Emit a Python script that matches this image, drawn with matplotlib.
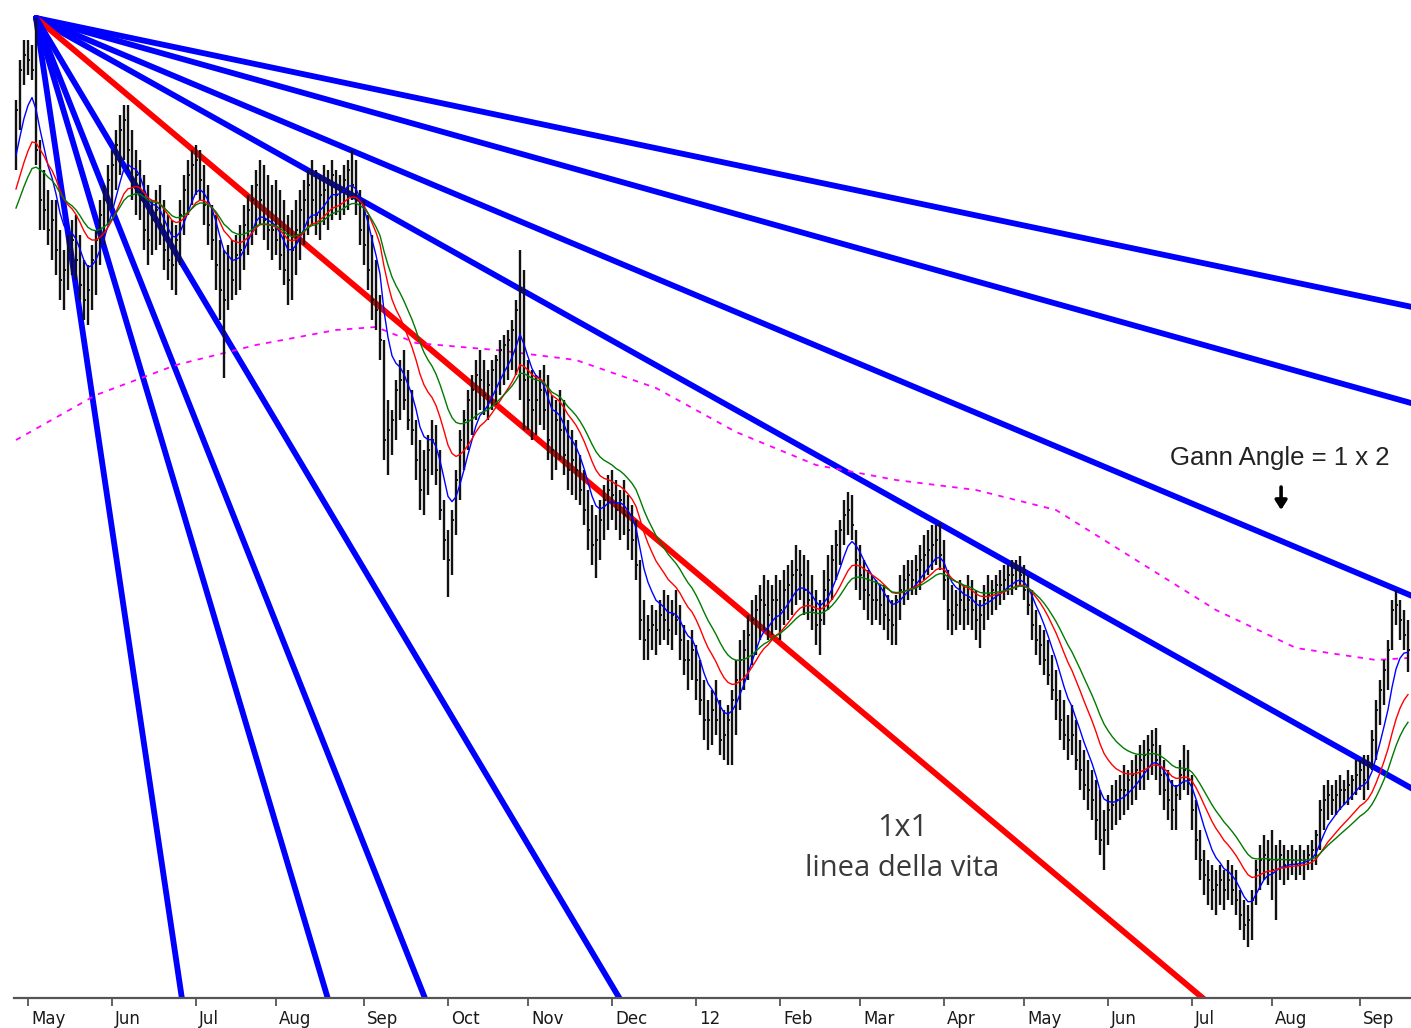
import matplotlib
matplotlib.use("Agg")
import matplotlib.pyplot as plt
import numpy as np
import pandas as pd
from matplotlib.transforms import blended_transform_factory, ScaledTranslation

# ---------------- data (price units, one entry per daily bar) ----------------
highs = [
    900, 940, 960, 960, 955, 982, 860, 830, 810, 800,
    800, 770, 750, 765, 780, 785, 765, 740, 735, 755,
    770, 800, 815, 835, 850, 870, 885, 895, 895, 870,
    850, 840, 825, 815, 800, 810, 815, 800, 785, 780,
    775, 800, 825, 840, 850, 855, 850, 835, 815, 795,
    785, 760, 750, 755, 760, 765, 775, 795, 805, 815,
    830, 840, 835, 825, 815, 820, 810, 800, 785, 790,
    800, 810, 820, 830, 840, 830, 825, 835, 830, 840,
    830, 825, 835, 840, 850, 840, 810, 800, 785, 765,
    740, 705, 660, 600, 590, 620, 640, 650, 630, 610,
    580, 560, 550, 565, 580, 575, 550, 500, 470, 490,
    530, 570, 590, 610, 625, 640, 650, 640, 630, 640,
    645, 660, 665, 670, 680, 700, 750, 730, 640, 630,
    625, 630, 635, 625, 605, 600, 610, 600, 580, 570,
    560, 545, 530, 510, 495, 485, 500, 515, 525, 530,
    520, 510, 520, 505, 495, 480, 440, 400, 385, 395,
    390, 400, 410, 405, 400, 410, 395, 375, 360, 370,
    355, 340, 320, 300, 310, 320, 300, 290, 295, 310,
    340, 360, 370, 385, 400, 405, 415, 425, 420, 415,
    425, 420, 430, 435, 440, 455, 450, 445, 440, 425,
    410, 400, 430, 445, 455, 470, 480, 500, 508, 505,
    470, 455, 440, 430, 425, 420, 415, 415, 405, 400,
    405, 425, 435, 440, 440, 445, 455, 465, 470, 475,
    475, 477, 460, 430, 415, 410, 420, 415, 425, 420,
    410, 400, 415, 425, 420, 425, 430, 435, 435, 440,
    440, 444, 435, 425, 410, 390, 375, 370, 360, 345,
    330, 310, 300, 285, 295, 280, 260, 250, 240, 230,
    220, 210, 190, 205, 215, 220, 225, 235, 230, 240,
    245, 255, 260, 265, 270, 272, 255, 240, 230, 220,
    215, 240, 255, 250, 225, 200, 170, 150, 140, 135,
    130, 135, 130, 140, 135, 130, 110, 100, 95, 110,
    140, 155, 165, 160, 170, 155, 160, 155, 150, 155,
    150, 155, 150, 155, 160, 170, 200, 215, 220, 215,
    220, 225, 220, 230, 225, 240, 240, 245, 245, 270,
    300, 320, 340, 360, 400, 410, 400, 390, 380,
]
lows = [
    830, 870, 915, 925, 920, 835, 770, 770, 755, 740,
    725, 700, 690, 710, 725, 720, 700, 680, 675, 690,
    705, 735, 755, 775, 790, 810, 825, 840, 830, 800,
    785, 780, 750, 735, 745, 750, 755, 730, 720, 710,
    705, 735, 765, 785, 795, 805, 800, 775, 755, 740,
    710, 680, 622, 690, 700, 705, 710, 730, 745, 755,
    765, 775, 760, 750, 740, 745, 730, 715, 695, 700,
    725, 740, 755, 765, 775, 765, 760, 775, 770, 780,
    785, 780, 785, 790, 800, 785, 755, 735, 710, 680,
    670, 640, 540, 525, 545, 560, 580, 590, 570, 555,
    520, 490, 485, 505, 525, 515, 480, 440, 403, 425,
    465, 500, 530, 550, 565, 580, 590, 585, 580, 590,
    595, 605, 615, 620, 630, 625, 600, 570, 570, 560,
    565, 575, 570, 540, 520, 530, 540, 525, 510, 505,
    500, 495, 475, 450, 435, 422, 440, 460, 470, 480,
    470, 460, 465, 450, 440, 420, 360, 340, 340, 350,
    345, 355, 360, 355, 350, 365, 340, 325, 310, 320,
    300, 285, 260, 250, 255, 265, 245, 240, 235, 235,
    265, 290, 310, 320, 335, 345, 360, 370, 360, 365,
    370, 360, 375, 380, 385, 395, 400, 385, 380, 370,
    355, 345, 375, 390, 400, 420, 435, 455, 465, 460,
    410, 400, 390, 380, 375, 380, 375, 370, 360, 355,
    355, 380, 395, 400, 405, 405, 410, 420, 425, 430,
    435, 430, 400, 370, 365, 370, 375, 370, 375, 370,
    360, 352, 370, 380, 385, 390, 395, 400, 405, 405,
    410, 415, 400, 385, 360, 345, 335, 325, 315, 300,
    280, 260, 250, 240, 245, 230, 210, 200, 190, 180,
    160, 145, 130, 155, 170, 175, 180, 185, 190, 195,
    200, 210, 210, 220, 225, 220, 205, 190, 180, 170,
    170, 200, 210, 205, 170, 140, 120, 105, 95, 90,
    85, 95, 90, 100, 95, 85, 70, 60, 53, 60,
    95, 110, 120, 115, 100, 80, 120, 115, 120, 125,
    120, 125, 120, 130, 130, 135, 150, 170, 180, 185,
    185, 190, 195, 195, 200, 205, 210, 200, 210, 230,
    240, 275, 295, 310, 350, 375, 360, 350, 328,
]
closes = [
    890, 930, 945, 940, 930, 850, 800, 790, 770, 780,
    750, 720, 730, 750, 760, 740, 715, 700, 710, 740,
    760, 785, 800, 820, 835, 855, 870, 880, 850, 820,
    825, 800, 770, 760, 780, 790, 775, 750, 740, 735,
    760, 785, 810, 825, 835, 840, 820, 795, 775, 760,
    735, 710, 700, 730, 720, 745, 750, 775, 790, 800,
    815, 800, 780, 770, 770, 760, 745, 730, 720, 750,
    770, 790, 800, 815, 800, 785, 805, 810, 820, 825,
    805, 810, 820, 830, 815, 800, 770, 755, 730, 700,
    690, 660, 560, 570, 580, 610, 620, 600, 580, 570,
    540, 510, 530, 550, 560, 530, 490, 460, 440, 480,
    520, 560, 580, 600, 610, 625, 620, 605, 615, 630,
    640, 650, 655, 660, 670, 690, 710, 620, 600, 590,
    600, 610, 590, 560, 550, 580, 570, 545, 530, 540,
    530, 510, 490, 470, 455, 460, 480, 500, 510, 505,
    490, 500, 485, 470, 460, 435, 380, 360, 370, 375,
    370, 385, 380, 370, 385, 380, 360, 340, 340, 350,
    320, 300, 280, 280, 290, 280, 260, 265, 280, 300,
    320, 340, 350, 365, 380, 390, 400, 395, 385, 400,
    400, 390, 410, 415, 425, 430, 425, 410, 400, 390,
    375, 380, 410, 420, 440, 455, 470, 485, 490, 475,
    440, 425, 410, 405, 400, 400, 395, 385, 380, 375,
    400, 410, 420, 425, 420, 430, 440, 445, 450, 455,
    460, 445, 420, 390, 385, 395, 400, 390, 400, 390,
    380, 385, 400, 405, 410, 415, 415, 420, 425, 425,
    430, 425, 410, 395, 375, 360, 355, 340, 325, 310,
    300, 280, 265, 260, 265, 240, 230, 215, 210, 200,
    180, 160, 170, 190, 195, 200, 210, 210, 220, 225,
    230, 240, 245, 250, 255, 240, 225, 210, 200, 190,
    205, 225, 230, 220, 190, 160, 140, 125, 120, 110,
    115, 120, 110, 120, 110, 100, 85, 75, 80, 100,
    130, 140, 145, 140, 130, 140, 145, 135, 140, 140,
    135, 140, 140, 145, 150, 165, 190, 200, 205, 200,
    205, 210, 210, 215, 220, 225, 230, 220, 235, 260,
    290, 310, 330, 350, 390, 395, 380, 365, 350,
]
# closes of the bars before the visible window (moving-average warm-up)
warmup_closes = [710, 712, 715, 718, 720, 724, 728, 732, 736, 740, 745, 750, 755,
                 762, 770, 778, 786, 795, 804, 814, 824, 834, 845, 855, 865]

# long moving average (magenta dotted), read at these bar indices
long_ma_idx = [0, 20, 40, 60, 80, 90, 100, 120, 140, 160, 180, 200, 220, 240,
               260, 280, 300, 320, 340, 348]
long_ma_val = [560, 605, 635, 655, 670, 673, 657, 650, 640, 612, 568, 535, 520,
               510, 490, 440, 390, 352, 340, 342]

# moving-average spans (EMA)
ma_spans = [8, 17, 25]
ma_colors = ["#0000ff", "#ff0000", "#007a00"]

# Gann fan: origin bar, price per bar of the 1x1 angle, angle ratios
gann_origin_bar = 5
gann_unit = 3.36
gann_ratios = [1 / 4, 1 / 3, 1 / 2, 2 / 3, 1, 2, 3, 4, 8]

# month ticks
month_idx = [3, 24, 45, 65, 87, 108, 128, 149, 170, 191, 211, 232, 252, 273, 294, 314, 336]
month_lbl = ["May", "Jun", "Jul", "Aug", "Sep", "Oct", "Nov", "Dec", "12",
             "Feb", "Mar", "Apr", "May", "Jun", "Jul", "Aug", "Sep"]

# ---------------- figure ----------------
W, H = 1411, 1028
fig = plt.figure(figsize=(W / 100, H / 100), dpi=100)
fig.patch.set_facecolor("white")
ax = fig.add_axes([14 / W, 30 / H, 1397 / W, 998 / H])
ax.set_facecolor("white")

x = np.arange(len(highs))

# Gann fan lines
origin_price = highs[gann_origin_bar]
fx = np.array([gann_origin_bar, 400.0])
for r in gann_ratios:
    fy = origin_price - r * gann_unit * (fx - gann_origin_bar)
    col = "#ff0000" if r == 1 else "#0000ff"
    ax.plot(fx, fy, color=col, lw=4.2, solid_capstyle="round", zorder=2)

# long MA (magenta dotted)
ax.plot(long_ma_idx, long_ma_val, color="#ff00ff", lw=1.3, ls=(0, (3, 3.5)), zorder=2.5)

# bars (high-low range with close tick)
ax.vlines(x, lows, highs, color="#111111", lw=1.7, zorder=3)
ax.hlines(closes, x, x + 0.6, color="#111111", lw=1.4, zorder=3)

# short EMAs
allc = pd.Series(warmup_closes + closes, dtype=float)
nw = len(warmup_closes)
for span, col in zip(ma_spans, ma_colors):
    ema = allc.ewm(span=span, adjust=False).mean().to_numpy()[nw:]
    ax.plot(x, ema, color=col, lw=1.0, zorder=4)

ax.set_xlim(-0.5, 348.75)
ax.set_ylim(2, 1000)

for s in ("top", "left", "right"):
    ax.spines[s].set_visible(False)
ax.spines["bottom"].set_color("#555555")
ax.spines["bottom"].set_linewidth(1.6)
ax.set_yticks([])
ax.set_xticks(month_idx)
ax.tick_params(axis="x", direction="out", length=6, width=1.3, color="#555555",
               labelbottom=False)

tr = blended_transform_factory(ax.transData, ax.transAxes) + \
    ScaledTranslation(3 / 100, -12 / 100, fig.dpi_scale_trans)
for mi, ml in zip(month_idx, month_lbl):
    ax.text(mi, 0, ml, transform=tr, ha="left", va="top", fontsize=12,
            family="DejaVu Sans", color="#1a1a1a")

# annotations
ax.text(0.906, 0.541, "Gann Angle = 1 x 2", transform=ax.transAxes, ha="center",
        va="center", fontsize=18.5, family="Liberation Sans", color="#222222")
ax.annotate("", xy=(0.907, 0.489), xytext=(0.907, 0.512), xycoords="axes fraction",
            arrowprops=dict(arrowstyle="-|>,head_width=0.35,head_length=0.55",
                            lw=2.6, color="black", shrinkA=0, shrinkB=0))
ax.text(0.636, 0.170, "1x1", transform=ax.transAxes, ha="center", va="center",
        fontsize=22, family="Open Sans", color="#3a3a3a")
ax.text(0.636, 0.130, "linea della vita", transform=ax.transAxes, ha="center",
        va="center", fontsize=21, family="Open Sans", color="#3a3a3a")

fig.savefig("out.png", dpi=100, facecolor="white")
